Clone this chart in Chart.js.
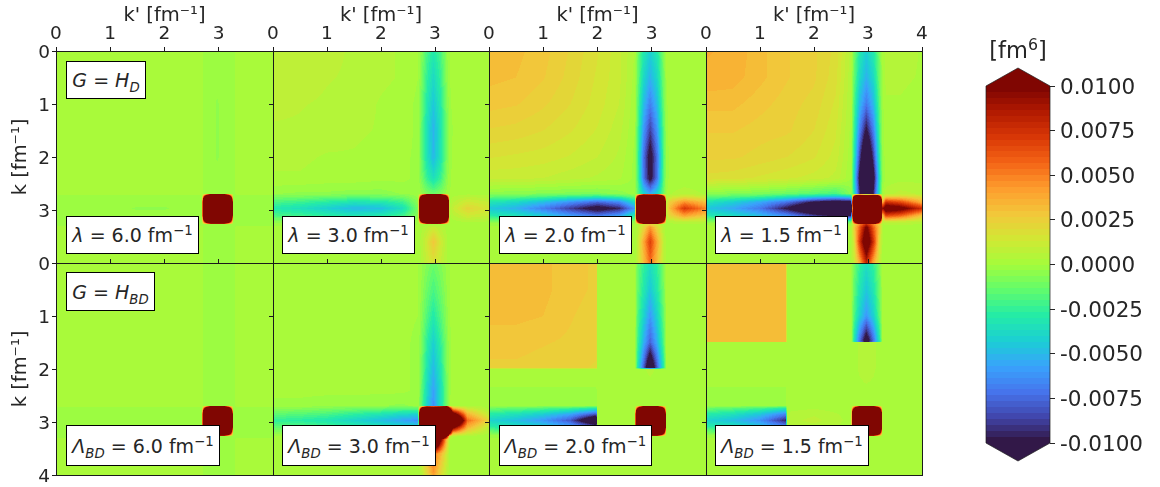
<!DOCTYPE html>
<html>
<head>
<meta charset="utf-8">
<title>Regulated matrix elements</title>
<script src="https://cdn.jsdelivr.net/npm/chart.js@4"></script>
<style>
  html, body { margin: 0; padding: 0; background: #fff; }
  #page { position: relative; width: 1160px; height: 487px; overflow: hidden; font-family: "DejaVu Sans", sans-serif; color: #262626; filter: blur(0.35px); }
  canvas { position: absolute; }
  .note { position: absolute; box-sizing: border-box; background: #fff; border: 1px solid #000; display: flex; align-items: center; justify-content: center; font-size: 19px; white-space: pre; }
  .note sub, .note sup { font-size: 0.7em; line-height: 0; }
  .note sub { font-style: italic; }
  #cbarTitle { position: absolute; left: 968px; top: 37px; width: 100px; text-align: center; font-size: 22.5px; }
  #cbarTitle sup { font-size: 0.7em; line-height: 0; }
</style>
</head>
<body>
<div id="page"></div>
<script>
// ── Axes ─────────────────────────────────────
const xTickLabels = [
  ['0', '1', '2', '3', ''],
  ['0', '1', '2', '3', ''],
  ['0', '1', '2', '3', ''],
  ['0', '1', '2', '3', '4']
];
const yTickLabelsTop = ['0', '1', '2', '3', ''];
const yTickLabelsBottom = ['0', '1', '2', '3', '4'];
const xTitle = "k' [fm⁻¹]";
const yTitle = 'k [fm⁻¹]';
const cbarTicks = [0.01, 0.0075, 0.005, 0.0025, 0, -0.0025, -0.005, -0.0075, -0.01];

// ── Mesh nodes (fm⁻¹), same list for k and k' ─
const kNodes     = [0, 0.5, 1, 1.5, 2, 2.4, 2.69, 2.74, 2.85, 2.97, 3.1, 3.22, 3.27, 3.33, 3.6, 4];
const kNodesBD2  = [0, 0.5, 1, 1.5, 1.98, 2, 2.69, 2.74, 2.85, 2.97, 3.1, 3.22, 3.27, 3.33, 3.6, 4];
const kNodesBD15 = [0, 0.5, 1, 1.48, 1.5, 2, 2.69, 2.74, 2.85, 2.97, 3.1, 3.22, 3.27, 3.33, 3.6, 4];

// ── Values, in 1e-4 fm⁶ ─
const lambda60 = [
  [1,1,1,1,1,1,1,-1,-1,-1,-1,-1,-1,1,1,1],
  [1,1,1,1,1,1,1,-1,-1,-1,-1,-1,-1,1,1,1],
  [1,1,1,1,1,1,1,-1,-1,-4,-1,-1,-1,1,1,1],
  [1,1,1,1,1,1,1,-1,-1,-4,-1,-1,-1,1,1,1],
  [1,1,1,1,1,1,1,-1,-1,-4,-1,-1,-1,1,1,1],
  [1,1,1,1,1,1,1,-1,-1,-1,-1,-1,-1,1,1,1],
  [1,1,1,1,1,1,1,-1,-1,-1,-1,-1,-1,1,1,1],
  [-1,-1,-1,-1,-1,-1,-1,85,300,300,300,85,-1,-1,-1,-1],
  [-1,-1,-1,-1,-1,-1,-1,300,300,300,300,300,-1,-1,-1,-1],
  [-1,-1,-1,-4,-4,-1,-1,300,300,300,300,300,-1,-1,-1,-1],
  [-1,-1,-1,-1,-1,-1,-1,300,300,300,300,300,-1,-1,-1,-1],
  [-1,-1,-1,-1,-1,-1,-1,85,300,300,300,85,-1,-1,-1,-1],
  [-1,-1,-1,-1,-1,-1,-1,-1,-1,-1,-1,-1,-1,-1,-1,-1],
  [1,1,1,1,1,1,1,-1,-1,-1,-1,-1,-1,1,1,1],
  [1,1,1,1,1,1,1,-1,-1,-1,-1,-1,-1,1,1,1],
  [1,1,1,1,1,1,1,-1,-1,-1,-1,-1,-1,1,1,1]
];
const lambda30 = [
  [10,9,8,6,4,3,0,-5,-20,-30,-20,-4,0,2,2,2],
  [9,9,7,6,4,3,0,-7,-25,-38,-25,-5,0,1,1,1],
  [8,7,6,5,3,2,-1,-10,-30,-45,-30,-8,-1,1,1,1],
  [6,6,5,4,3,2,-1,-12,-34,-52,-34,-10,-2,0,1,1],
  [4,4,3,3,2,1,-1,-12,-33,-50,-33,-9,-2,1,1,1],
  [3,3,2,2,1,1,-1,-8,-24,-35,-24,-6,-1,1,1,1],
  [-3,-4,-4,-5,-5,-3,-1,-2,-8,-12,-8,-2,0,1,2,2],
  [-8,-9,-11,-13,-12,-9,-2,85,300,300,300,85,1,3,6,4],
  [-20,-23,-28,-33,-31,-23,-5,300,300,300,300,300,2,6,14,10],
  [-30,-35,-42,-50,-48,-35,-8,300,300,300,300,300,4,10,22,15],
  [-20,-23,-28,-33,-31,-23,-5,300,300,300,300,300,2,6,14,10],
  [-5,-6,-7,-8,-8,-6,-1,85,300,300,300,85,1,2,4,3],
  [-2,-2,-2,-2,-2,-1,0,0,1,3,2,1,0,1,1,1],
  [1,1,1,1,1,1,1,2,6,12,6,2,1,1,1,1],
  [1,1,1,1,1,1,1,4,14,28,14,4,1,1,1,1],
  [1,1,1,1,1,1,1,3,10,16,10,3,1,1,1,1]
];
const lambda20 = [
  [32,31,28,23,17,11,3,-10,-30,-42,-30,-8,0,3,2,1],
  [31,30,27,22,16,11,2,-12,-38,-52,-38,-10,0,3,2,1],
  [28,27,24,20,15,10,1,-15,-48,-68,-48,-13,-1,2,1,1],
  [23,22,20,17,13,8,0,-18,-60,-88,-60,-16,-2,2,1,1],
  [17,16,15,13,10,6,-1,-20,-72,-108,-72,-18,-3,1,1,1],
  [11,11,10,8,6,4,-1,-18,-70,-105,-70,-16,-2,1,1,1],
  [-5,-6,-7,-8,-8,-5,-2,-15,-40,-55,-40,-12,-1,3,5,3],
  [-12,-14,-18,-22,-25,-20,-10,85,300,300,300,85,3,8,14,10],
  [-32,-38,-48,-62,-75,-65,-35,300,300,300,300,300,8,25,45,30],
  [-45,-52,-68,-88,-108,-95,-60,300,300,300,300,300,12,32,72,48],
  [-30,-35,-45,-60,-72,-60,-30,300,300,300,300,300,6,22,42,28],
  [-6,-8,-10,-12,-14,-10,-5,85,300,300,300,85,2,5,8,6],
  [-1,-2,-2,-3,-3,-2,0,3,15,25,15,2,1,2,3,2],
  [1,1,1,1,1,1,1,5,22,45,22,5,1,1,2,2],
  [1,1,1,1,1,1,2,8,38,70,38,8,2,1,1,1],
  [1,1,1,1,1,1,2,8,30,55,30,8,2,1,1,1]
];
const lambda15 = [
  [37,36,31,27,24,19,5,-10,-30,-42,-30,-8,1,5,5,3],
  [36,35,31,27,24,18,4,-13,-38,-52,-38,-10,0,4,4,3],
  [31,31,28,25,22,16,3,-18,-50,-70,-50,-14,-1,3,3,2],
  [27,27,25,24,20,14,2,-22,-68,-102,-68,-18,-2,3,2,2],
  [24,24,22,20,17,12,1,-28,-88,-140,-88,-24,-3,2,2,2],
  [19,18,16,14,12,9,0,-35,-108,-165,-108,-30,-4,1,2,2],
  [-6,-7,-9,-12,-16,-20,-5,-30,-95,-140,-95,-25,0,5,8,6],
  [-13,-16,-20,-28,-36,-42,-35,85,300,300,300,85,5,20,20,15],
  [-33,-42,-55,-72,-100,-110,-105,300,300,300,300,300,30,75,65,35],
  [-45,-55,-70,-100,-135,-165,-165,300,300,300,300,300,90,120,110,75],
  [-30,-38,-50,-65,-90,-105,-100,300,300,300,300,300,28,70,60,30],
  [-6,-8,-12,-15,-18,-22,-15,85,300,300,300,85,8,12,10,6],
  [-1,-2,-3,-3,-4,-5,-2,20,50,80,50,20,3,4,4,3],
  [2,2,2,2,2,2,3,25,60,105,60,25,3,2,2,2],
  [2,2,2,2,2,2,3,15,75,125,75,15,3,3,2,2],
  [2,2,2,2,2,2,3,10,38,80,38,10,3,2,2,2]
];
const bd60 = [
  [1,1,1,1,1,1,1,-1,-1,-1,-1,-1,-1,1,1,1],
  [1,1,1,1,1,1,1,-1,-1,-1,-1,-1,-1,1,1,1],
  [1,1,1,1,1,1,1,-1,-1,-1,-1,-1,-1,1,1,1],
  [1,1,1,1,1,1,1,-1,-1,-1,-1,-1,-1,1,1,1],
  [1,1,1,1,1,1,1,-1,-1,-1,-1,-1,-1,1,1,1],
  [1,1,1,1,1,1,1,-1,-1,-1,-1,-1,-1,1,1,1],
  [1,1,1,1,1,1,1,-1,-1,-1,-1,-1,-1,1,1,1],
  [-1,-1,-1,-1,-1,-1,-1,85,300,300,300,85,-1,-1,-1,-1],
  [-1,-1,-1,-1,-1,-1,-1,300,300,300,300,300,-1,-1,-1,-1],
  [-1,-1,-1,-1,-1,-1,-1,300,300,300,300,300,-1,-1,-1,-1],
  [-1,-1,-1,-1,-1,-1,-1,300,300,300,300,300,-1,-1,-1,-1],
  [-1,-1,-1,-1,-1,-1,-1,85,300,300,300,85,-1,-1,-1,-1],
  [-1,-1,-1,-1,-1,-1,-1,-1,-1,-1,-1,-1,-1,-1,-1,-1],
  [1,1,1,1,1,1,1,-1,-1,-1,-1,-1,-1,1,1,1],
  [1,1,1,1,1,1,1,-1,-1,-1,-1,-1,-1,1,1,1],
  [1,1,1,1,1,1,1,-1,-1,-1,-1,-1,-1,1,1,1]
];
const bd30 = [
  [1,1,1,1,1,1,0,-2,-7,-12,-7,-2,0,1,1,1],
  [1,1,1,1,1,1,0,-3,-12,-20,-12,-3,0,1,1,1],
  [1,1,1,1,1,1,0,-5,-18,-30,-18,-5,0,1,1,1],
  [1,1,1,1,1,1,-1,-7,-26,-42,-26,-7,-1,1,1,1],
  [1,1,1,1,1,1,-1,-9,-32,-50,-32,-8,-1,1,1,1],
  [1,1,1,1,1,1,-1,-12,-37,-57,-37,-10,-1,1,1,1],
  [-1,-1,-2,-2,-3,-4,-2,-14,-40,-62,-36,-9,0,3,3,2],
  [-5,-6,-8,-10,-12,-14,-14,85,300,300,300,300,100,35,12,2],
  [-15,-17,-20,-26,-32,-38,-40,300,300,300,300,300,200,120,35,8],
  [-25,-28,-32,-40,-48,-56,-62,300,300,300,300,300,300,220,55,22],
  [-14,-16,-20,-25,-30,-36,-38,300,300,300,300,300,200,110,35,8],
  [-3,-4,-5,-6,-8,-9,-9,85,300,300,300,300,100,30,12,2],
  [0,0,0,0,0,-1,-1,100,200,300,200,100,10,4,2,1],
  [1,1,1,1,1,1,2,35,120,220,110,30,4,2,1,1],
  [1,1,1,1,1,1,2,12,35,55,35,12,2,1,1,1],
  [1,1,1,1,1,1,1,4,20,42,20,6,1,1,1,1]
];
const bd20 = [
  [32,32,31,28,26,1,1,-12,-25,-35,-25,-8,1,1,1,1],
  [32,31,31,28,26,1,1,-14,-30,-45,-30,-10,1,1,1,1],
  [31,31,30,27,25,1,1,-18,-40,-60,-40,-14,1,1,1,1],
  [28,28,27,26,24,1,1,-22,-52,-78,-52,-18,1,1,1,1],
  [26,26,25,24,23,1,1,-30,-78,-130,-78,-28,1,1,1,1],
  [1,1,1,1,1,1,1,2,3,4,3,2,1,1,1,1],
  [-1,-1,-1,-1,-1,1,1,1,1,1,1,1,1,1,1,1],
  [-12,-14,-18,-22,-30,1,2,85,300,300,300,85,1,1,1,1],
  [-28,-34,-42,-55,-80,1,2,300,300,300,300,300,1,1,1,1],
  [-40,-48,-60,-80,-135,1,2,300,300,300,300,300,1,1,1,1],
  [-26,-32,-40,-52,-75,1,2,300,300,300,300,300,1,1,1,1],
  [-6,-8,-10,-13,-18,1,2,85,300,300,300,85,1,1,1,1],
  [-1,-1,-1,-1,-1,1,1,1,1,1,1,1,1,1,1,1],
  [1,1,1,1,1,1,1,1,1,1,1,1,1,1,1,1],
  [1,1,1,1,1,1,1,1,1,1,1,1,1,1,1,1],
  [1,1,1,1,1,1,1,1,1,1,1,1,1,1,1,1]
];
const bd15 = [
  [32,32,32,32,1,1,1,-10,-25,-35,-25,-8,1,2,2,1],
  [32,32,32,32,1,1,1,-14,-32,-45,-32,-10,1,2,2,1],
  [32,32,32,32,1,1,1,-18,-42,-60,-42,-14,1,2,2,1],
  [32,32,32,32,1,1,1,-30,-75,-115,-75,-28,1,1,1,1],
  [1,1,1,1,1,1,1,2,4,6,4,2,1,1,1,1],
  [1,1,1,1,1,1,1,2,4,5,4,2,1,1,1,1],
  [-1,-1,-1,-1,1,1,1,1,1,1,1,1,1,1,1,1],
  [-12,-16,-20,-30,2,3,1,85,300,300,300,85,1,1,1,1],
  [-28,-34,-45,-66,4,6,2,300,300,300,300,300,1,1,1,1],
  [-40,-48,-62,-95,5,8,2,300,300,300,300,300,1,1,1,1],
  [-26,-30,-42,-60,3,5,2,300,300,300,300,300,1,1,1,1],
  [-6,-8,-10,-14,1,2,1,85,300,300,300,85,1,1,1,1],
  [-1,-1,-1,-1,1,1,1,1,1,1,1,1,1,1,1,1],
  [1,1,1,1,1,1,1,1,1,1,1,1,1,1,1,1],
  [1,1,1,1,1,1,1,1,1,1,1,1,1,1,1,1],
  [1,1,1,1,1,1,1,1,1,1,1,1,1,1,1,1]
];

// ── Panel layout ─────────────────────────────
const MARGIN_LEFT = 56, MARGIN_TOP = 51, PAD = 14;
const N_LEVELS = 60;
const VMAX = 100;    // colour range in 1e-4 fm⁶
const colEdges = [56, 273, 489, 706, 922];
const rowEdges = [51, 263, 475];
const page = document.getElementById('page');

// Turbo colormap, evenly spaced stops
const turboStops = [
  [48,18,59], [65,69,171], [70,117,237], [57,162,252], [27,207,212],
  [36,236,166], [97,252,108], [164,252,59], [209,232,52], [243,198,58],
  [254,155,45], [243,99,21], [217,56,6], [177,25,1], [122,4,2]
];
function turbo(x) {
  const p = x * (turboStops.length - 1);
  const i = Math.min(turboStops.length - 2, Math.floor(p));
  const f = p - i;
  return turboStops[i].map((c, n) => Math.round(c + (turboStops[i + 1][n] - c) * f));
}
const levelColors = [];
for (let i = 0; i < N_LEVELS; i++) levelColors.push(turbo((i + 0.5) / N_LEVELS));

function levelOf(v) {
  const l = Math.floor((v + VMAX) / (2 * VMAX) * N_LEVELS);
  return Math.max(0, Math.min(N_LEVELS - 1, l));
}

function nodeIndex(nodes, v) {
  let i = 0;
  while (i < nodes.length - 2 && v > nodes[i + 1]) i++;
  return i;
}

// Shades the mesh cells into the chart area, filled contours like the original
function meshPlugin(nodes, values) {
  return {
    id: 'mesh',
    beforeDatasetsDraw(chart) {
      const { left, top, right, bottom } = chart.chartArea;
      const w = Math.round(right - left), h = Math.round(bottom - top);
      const img = chart.ctx.createImageData(w, h);
      for (let py = 0; py < h; py++) {
        const k = chart.scales.y.getValueForPixel(top + py + 0.5);
        const r = nodeIndex(nodes, k);
        const fy = (k - nodes[r]) / (nodes[r + 1] - nodes[r]);
        for (let px = 0; px < w; px++) {
          const kp = chart.scales.x.getValueForPixel(left + px + 0.5);
          const c = nodeIndex(nodes, kp);
          const fx = (kp - nodes[c]) / (nodes[c + 1] - nodes[c]);
          const v = values[r][c] * (1 - fx) * (1 - fy) + values[r][c + 1] * fx * (1 - fy)
                  + values[r + 1][c] * (1 - fx) * fy + values[r + 1][c + 1] * fx * fy;
          const col = levelColors[levelOf(v)];
          const o = (py * w + px) * 4;
          img.data[o] = col[0]; img.data[o + 1] = col[1]; img.data[o + 2] = col[2]; img.data[o + 3] = 255;
        }
      }
      chart.ctx.putImageData(img, left, top);
    },
    afterDraw(chart) {
      const { left, top, right, bottom } = chart.chartArea;
      const ctx = chart.ctx;
      ctx.save();
      ctx.strokeStyle = '#1a1a1a';
      ctx.lineWidth = 1;
      ctx.strokeRect(left + 0.5, top + 0.5, right - left, bottom - top);
      ctx.restore();
    }
  };
}

function addCanvas(left, top, width, height) {
  const c = document.createElement('canvas');
  c.width = width; c.height = height;
  c.style.left = left + 'px'; c.style.top = top + 'px';
  c.style.width = width + 'px'; c.style.height = height + 'px';
  page.appendChild(c);
  return c;
}

function renderPanel(col, row, nodes, values) {
  const x0 = colEdges[col], x1 = colEdges[col + 1];
  const y0 = rowEdges[row], y1 = rowEdges[row + 1];
  const canvas = addCanvas(x0 - MARGIN_LEFT, y0 - MARGIN_TOP, x1 - x0 + MARGIN_LEFT + PAD, y1 - y0 + MARGIN_TOP + PAD);
  const xLabels = row === 0 ? xTickLabels[col] : [];
  const yLabels = col === 0 ? (row === 0 ? yTickLabelsTop : yTickLabelsBottom) : [];
  const tickFont = { family: 'DejaVu Sans', size: 18.5 };
  const titleFont = { family: 'DejaVu Sans', size: 19.5 };
  return new Chart(canvas, {
    type: 'scatter',
    data: { datasets: [{ data: [] }] },
    plugins: [meshPlugin(nodes, values)],
    options: {
      responsive: false,
      animation: false,
      devicePixelRatio: 1,
      layout: { padding: { left: 0, top: 0, right: PAD, bottom: PAD } },
      plugins: { legend: { display: false }, tooltip: { enabled: false } },
      scales: {
        x: {
          type: 'linear', position: 'top', min: 0, max: 4,
          afterFit: s => { s.height = MARGIN_TOP; },
          border: { display: false },
          grid: { drawOnChartArea: false, drawTicks: true, tickLength: 4, color: '#1a1a1a' },
          title: { display: row === 0, text: xTitle, color: '#262626', font: titleFont, padding: { top: 4, bottom: 0 } },
          ticks: {
            stepSize: 1, maxRotation: 0, autoSkip: false, color: '#262626', font: tickFont, padding: 2,
            callback: v => xLabels[v] || ''
          }
        },
        y: {
          type: 'linear', position: 'left', reverse: true, min: 0, max: 4,
          afterFit: s => { s.width = MARGIN_LEFT; },
          border: { display: false },
          grid: { drawOnChartArea: false, drawTicks: true, tickLength: 4, color: '#1a1a1a' },
          title: { display: col === 0, text: yTitle, color: '#262626', font: titleFont, padding: { top: 9, bottom: 0 } },
          ticks: {
            stepSize: 1, autoSkip: false, color: '#262626', font: tickFont, padding: 2, labelOffset: 2,
            callback: v => yLabels[v] || ''
          }
        }
      }
    }
  });
}

// ── Colour bar ───────────────────────────────
const cbarPlugin = {
  id: 'cbar',
  beforeDatasetsDraw(chart) {
    const { left, right, top, bottom } = chart.chartArea;
    const ctx = chart.ctx, y = chart.scales.y;
    const mid = (left + right) / 2;
    for (let i = 0; i < N_LEVELS; i++) {
      const lo = y.getPixelForValue(-0.01 + 0.02 * i / N_LEVELS);
      const hi = y.getPixelForValue(-0.01 + 0.02 * (i + 1) / N_LEVELS);
      const col = levelColors[i];
      ctx.fillStyle = `rgb(${col[0]},${col[1]},${col[2]})`;
      ctx.fillRect(left, Math.round(hi), right - left, Math.round(lo) - Math.round(hi));
    }
    const tipTop = top - 18, tipBottom = bottom + 18;
    ctx.fillStyle = `rgb(${levelColors[N_LEVELS - 1].join(',')})`;
    ctx.beginPath(); ctx.moveTo(left, top); ctx.lineTo(mid, tipTop); ctx.lineTo(right, top); ctx.closePath(); ctx.fill();
    ctx.fillStyle = `rgb(${levelColors[0].join(',')})`;
    ctx.beginPath(); ctx.moveTo(left, bottom); ctx.lineTo(mid, tipBottom); ctx.lineTo(right, bottom); ctx.closePath(); ctx.fill();
    ctx.strokeStyle = 'rgba(30,30,30,0.7)';
    ctx.lineWidth = 1;
    ctx.beginPath();
    ctx.moveTo(left, top); ctx.lineTo(mid, tipTop); ctx.lineTo(right, top); ctx.lineTo(right, bottom);
    ctx.lineTo(mid, tipBottom); ctx.lineTo(left, bottom); ctx.closePath();
    ctx.stroke();
  }
};

function renderColorbar() {
  const canvas = addCanvas(960, 20, 200, 450);
  return new Chart(canvas, {
    type: 'scatter',
    data: { datasets: [{ data: [] }] },
    plugins: [cbarPlugin],
    options: {
      responsive: false,
      animation: false,
      devicePixelRatio: 1,
      layout: { padding: { left: 26, top: 66, right: 0, bottom: 27 } },
      plugins: { legend: { display: false }, tooltip: { enabled: false } },
      scales: {
        x: { type: 'linear', display: false },
        y: {
          type: 'linear', position: 'right', min: -0.01, max: 0.01,
          afterFit: s => { s.width = 110; },
          afterBuildTicks: s => { s.ticks = cbarTicks.map(v => ({ value: v })); },
          border: { display: false },
          grid: { drawOnChartArea: false, drawTicks: true, tickLength: 5, color: '#262626' },
          ticks: {
            autoSkip: false, color: '#262626', font: { family: 'DejaVu Sans', size: 21.5 }, padding: 5, labelOffset: 2,
            callback: v => v.toFixed(4)
          }
        }
      }
    }
  });
}

// ── Text boxes ───────────────────────────────
function addNote(html, left, top, width, height) {
  const d = document.createElement('div');
  d.className = 'note';
  d.innerHTML = '<span>' + html + '</span>';
  d.style.cssText = `left:${left}px;top:${top}px;width:${width}px;height:${height}px`;
  page.appendChild(d);
}

// ── Draw everything ──────────────────────────
const topPanels = [lambda60, lambda30, lambda20, lambda15];
const bottomPanels = [bd60, bd30, bd20, bd15];
const bottomNodes = [kNodes, kNodes, kNodesBD2, kNodesBD15];

topPanels.forEach((values, i) => renderPanel(i, 0, kNodes, values));
bottomPanels.forEach((values, i) => renderPanel(i, 1, bottomNodes[i], values));
renderColorbar();

const lambdaLabels = ['6.0', '3.0', '2.0', '1.5'];
const noteLeft = [66, 282, 499, 715];
const lambdaWidth = 133;
const bdWidths = [154, 154, 153, 154];

addNote('<i>G</i> = <i>H</i><sub>D</sub>', 66, 61, 80, 38);
addNote('<i>G</i> = <i>H</i><sub>BD</sub>', 66, 272, 89, 39);
lambdaLabels.forEach((label, i) => {
  addNote(`<i>λ</i> = ${label} fm<sup>−1</sup>`, noteLeft[i], 216, lambdaWidth, 38);
  addNote(`<i>Λ</i><sub>BD</sub> = ${label} fm<sup>−1</sup>`, noteLeft[i], 425, bdWidths[i], 41);
});

const cbarTitle = document.createElement('div');
cbarTitle.id = 'cbarTitle';
cbarTitle.innerHTML = '[fm<sup>6</sup>]';
page.appendChild(cbarTitle);
</script>
</body>
</html>
